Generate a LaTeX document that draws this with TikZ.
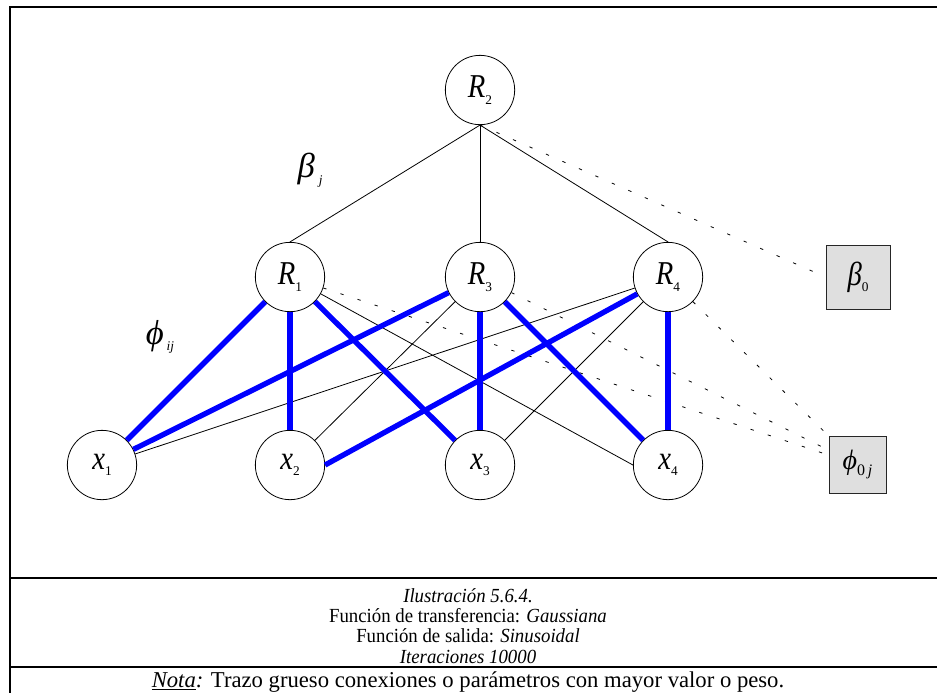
\documentclass[tikz,border=0pt]{standalone}
\usepackage{fontspec}
\setmainfont{Liberation Serif}
\newcommand{\idx}[1]{\raisebox{-5pt}{\fontsize{10}{10}\selectfont\upshape #1}}
\newcommand{\nlab}[2]{\scalebox{0.86}[1]{#1}\idx{#2}}
\newcommand{\narrow}[1]{\scalebox{0.94}[1]{#1}}

\begin{document}
\begin{tikzpicture}[x=0.75pt, y=-0.75pt,
	neuron/.style={draw, circle, minimum size=52pt, inner sep=0pt, line width=0.6pt,
		font=\fontsize{25}{25}\selectfont\itshape},
	biasbox/.style={draw=black!85, fill=gray!25, inner sep=0pt, line width=0.7pt,
		font=\fontsize{25}{25}\selectfont\itshape},
	weak/.style={line width=0.6pt},
	strong/.style={line width=4pt, draw=wcol},
	param/.style={line width=0.6pt, dash pattern=on 2.5pt off 11pt},
	frameline/.style={line width=1.6pt},
	caption/.style={inner sep=0pt, font=\fontsize{15}{15}\selectfont}]
	
	\definecolor{wcol}{HTML}{0000FF}
	\useasboundingbox (0,0) rectangle (937,693);
	
	% Frame
	\draw[frameline] (937,7) -- (10,7) -- (10,693);
	\draw[frameline] (10,578) -- (937,578);
	\draw[frameline] (10,667) -- (937,667);
	
	% Output and hidden layer
	\node[neuron] (r2) at (480,90) {\nlab{R}{2}};
	\node[neuron] (r1) at (290,277) {\nlab{R}{1}};
	\node[neuron] (r3) at (480,277) {\nlab{R}{3}};
	\node[neuron] (r4) at (668,277) {\nlab{R}{4}};
	
	% Inputs
	\node[neuron] (x1) at (102,465) {\nlab{x}{1}};
	\node[neuron] (x2) at (290,465) {\nlab{x}{2}};
	\node[neuron] (x3) at (480,465) {\nlab{x}{3}};
	\node[neuron] (x4) at (668,465) {\nlab{x}{4}};
	
	% Bias terms
	\node[biasbox, minimum size=48pt] (b0) at (858,277) {\nlab{β}{0}};
	\node[biasbox, minimum size=42.75pt, font=\fontsize{21}{21}\selectfont\itshape] (p0) at (857.5,464.5)
	{ϕ\raisebox{-5pt}{\fontsize{12}{12}\selectfont\upshape 0\,\itshape j}};
	
	% Weight labels
	\node[font=\fontsize{26}{26}\selectfont\itshape] (lbeta) at (310,170) {β\hspace{3pt}\idx{\itshape j}};
	\node[font=\fontsize{26}{26}\selectfont\itshape] (lphi) at (160,337) {ϕ\hspace{2pt}\idx{\itshape ij}};
	
	% Thin connections
	\draw[weak] (r2.south) -- (r1.north);
	\draw[weak] (r2.south) -- (r3.north);
	\draw[weak] (r2.south) -- (r4.north);
	\draw[weak] (r3) -- (x2);
	\draw[weak] (r4) -- (x3);
	\draw[weak] (r1) -- (x4.west);
	\draw[weak] (r4) -- (x1);
	
	% Bias connections
	\draw[param] (r2.south) -- (b0.west);
	\draw[param] (r1) -- (p0);
	\draw[param] (r3) -- (p0);
	\draw[param] (r4) -- (p0);
	
	% Thick connections
	\draw[strong] (r1) -- (x1);
	\draw[strong] (r1) -- (x2);
	\draw[strong] (r1) -- (x3);
	\draw[strong] (r3) -- (x1);
	\draw[strong] (r3) -- (x3);
	\draw[strong] (r3) -- (x4);
	\draw[strong] (r4) -- (x2.east);
	\draw[strong] (r4) -- (x4);
	
	% Caption
	\node[caption] (cap1) at (468,596) {\narrow{\textit{Ilustración 5.6.4.}}};
	\node[caption] (cap2) at (468,616) {\narrow{Función de transferencia: \textit{Gaussiana}}};
	\node[caption] (cap3) at (468,636) {\narrow{Función de salida: \textit{Sinusoidal}}};
	\node[caption] (cap4) at (468,657) {\narrow{\textit{Iteraciones 10000}}};
	\node[caption, font=\fontsize{17}{17}\selectfont] (note) at (468,682) {\underline{\textit{Nota}}\textit{:} Trazo grueso conexiones o parámetros con mayor valor o peso.};
	
\end{tikzpicture}
\end{document}
